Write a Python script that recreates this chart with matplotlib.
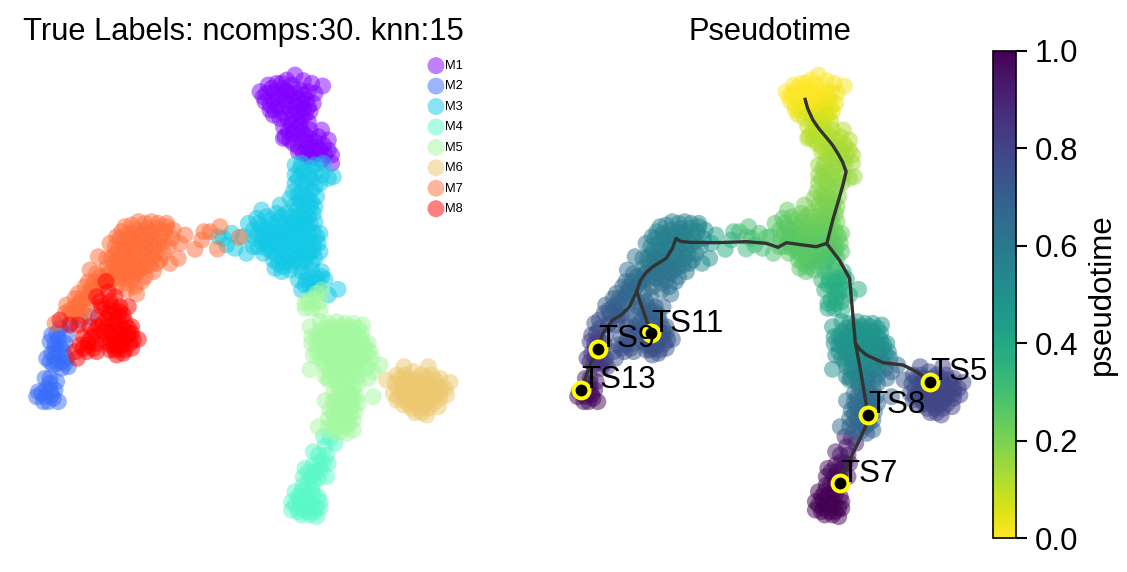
"""
Two embedding panels: true labels and pseudotime with the inferred paths.
"""

import numpy as np
import matplotlib.pyplot as plt

plt.rcParams["font.family"] = ["Liberation Sans", "DejaVu Sans"]

# (x, y, pseudotime) per cell. y grows downwards.
M1 = [(885,75,0),(860,90,0),(830,100,0),(805,105,0),(780,125,0),(968,108,.01),(910,92,0),(935,100,.01),
      (800,130,0),(825,125,0),(850,115,0),(875,105,0),(900,120,0),(925,125,.01),(945,130,.02),(795,155,0),
      (820,150,0),(845,140,0),(870,135,0),(895,145,.01),(920,150,.02),(940,160,.03),(810,180,.01),(835,170,.01),
      (860,165,.01),(885,170,.02),(910,175,.03),(930,185,.05),(820,195,.04),(850,190,.04),(880,195,.05),(905,200,.07),
      (925,215,.09),(850,230,.09),(875,225,.09),(900,225,.1),(855,260,.1),(880,250,.1),(905,245,.11),(930,240,.11),
      (965,240,.12),(985,270,.12),(850,265,.11),(880,280,.12),(905,270,.12),(930,265,.12),(955,260,.12),(895,305,.13),
      (920,295,.13),(945,290,.13),(970,285,.13),(995,315,.13),(920,320,.14),(950,310,.14),(975,315,.14),(995,340,.14)]
M1 += [(845,100,0),(815,115,0),(790,140,0),(835,140,0),(860,125,0),(885,130,0),(910,135,.01),(810,165,.01),
       (855,150,0),(880,155,.01),(905,160,.02),(925,170,.03),(825,180,.02),(870,180,.02),(895,185,.04),(840,205,.07),
       (865,210,.08),(890,215,.08),(915,195,.06),(865,245,.1),(890,240,.1),(915,255,.11),(870,270,.11),(895,290,.12),
       (920,280,.12),(945,275,.12),(910,310,.13),(935,305,.13),(960,300,.13),(985,300,.13),(935,325,.14),(965,330,.14)]
M2 = [(270,800,.72),(240,810,.74),(210,820,.76),(155,855,.8),(180,835,.78),(200,855,.78),(150,875,.82),(175,865,.8),
      (195,880,.8),(165,895,.82),(190,905,.82),(140,925,.85),(165,920,.84),(185,935,.84),(205,950,.82),(200,925,.82),
      (160,945,.86),(185,955,.86),(135,985,.92),(150,1000,.94),(170,995,.93),(140,1015,.96),(115,1025,.97),(165,1020,.96),
      (110,1040,.98),(135,1040,.98),(155,1035,.98),(175,1055,.98),(145,1055,.98)]
M2 += [(170,850,.8),(165,880,.82),(180,890,.82),(155,910,.84),(175,905,.83),(150,935,.86),(170,940,.85),(195,940,.84),
       (150,985,.92),(125,1030,.97),(150,1020,.96),(160,1045,.98),(130,1055,.98)]
M3 = [(885,345,.15),(905,340,.15),(945,345,.15),(970,340,.15),(1000,380,.15),(885,375,.16),(910,365,.16),(935,355,.16),
      (965,375,.16),(985,385,.16),(885,400,.17),(910,395,.17),(935,390,.17),(960,400,.17),(880,425,.18),(905,425,.18),
      (935,420,.18),(950,440,.19),(870,445,.19),(900,450,.19),(925,450,.19),(945,470,.2),(785,480,.24),(840,465,.21),
      (745,520,.26),(770,505,.25),(800,500,.24),(830,490,.22),(860,490,.21),(890,480,.2),(915,485,.2),(940,490,.2),
      (945,515,.21),(760,540,.26),(785,530,.25),(810,525,.24),(835,515,.23),(860,515,.22),(885,510,.22),(910,510,.21),
      (930,520,.22),(960,550,.23),(765,565,.26),(790,555,.25),(815,550,.24),(840,545,.24),(865,540,.23),(890,535,.23),
      (915,540,.23),(940,545,.23),(775,590,.26),(800,580,.25),(825,575,.25),(850,570,.25),(875,565,.25),(900,565,.25),
      (925,570,.25),(955,580,.25),(790,610,.26),(815,605,.26),(840,600,.26),(865,595,.26),(890,590,.26),(915,595,.26),
      (940,600,.26),(960,605,.27),(820,630,.26),(845,625,.26),(870,620,.27),(895,620,.27),(920,620,.28),(945,625,.28),
      (825,655,.26),(850,650,.26),(875,645,.27),(900,640,.28),(935,660,.33),(905,665,.32),(965,665,.34),(895,690,.35),
      (920,690,.35),(950,685,.36),(975,688,.37),(905,720,.37),(930,710,.37),(955,705,.38),(1014,718,.38),(985,735,.38),
      (695,550,.3),(670,565,.3),(655,560,.3),(680,585,.31),(705,595,.3),(740,610,.28),(730,560,.28),(760,590,.27)]
M3 += [(900,355,.16),(925,375,.16),(950,365,.16),(895,385,.17),(920,405,.17),(945,410,.18),(895,435,.18),(915,440,.19),
       (935,455,.19),(885,465,.2),(910,470,.2),(930,470,.2),(815,510,.24),(845,500,.22),(875,500,.21),(900,495,.21),
       (925,500,.21),(775,520,.25),(795,540,.25),(825,535,.24),(850,530,.23),(875,525,.22),(900,520,.22),(920,525,.22),
       (775,550,.26),(800,565,.25),(825,560,.25),(850,555,.24),(875,550,.24),(900,550,.24),(925,555,.24),(950,560,.24),
       (785,575,.26),(810,590,.26),(835,585,.25),(860,580,.25),(885,578,.25),(910,580,.25),(940,585,.25),(800,595,.26),
       (830,615,.26),(855,610,.26),(880,605,.26),(905,605,.26),(930,610,.27),(835,640,.26),(860,635,.26),(885,632,.27),
       (910,630,.28),(935,640,.3),(845,665,.27),(870,660,.28),(920,670,.33),(940,695,.36),(965,680,.36),(915,705,.37),
       (940,720,.38)]
M4 = [(970,1160,.9),(990,1165,.9),(1005,1180,.92),(940,1205,.93),(980,1215,.94),(960,1235,.96),(985,1240,.96),
      (940,1245,.97),(915,1255,.97),(960,1260,.98),(980,1280,.98),(910,1280,.98),(935,1280,.98),(955,1285,.99),
      (925,1300,.99),(885,1325,1.0),(905,1325,1.0),(935,1320,1.0),(955,1340,1.0),(875,1355,1.0),(900,1350,1.0),
      (925,1345,1.0),(960,1355,1.0),(875,1380,1.0),(900,1375,1.0),(925,1370,1.0),(950,1375,1.0),(905,1395,1.0),
      (930,1395,1.0),(950,1400,1.0)]
M4 += [(975,1190,.93),(955,1215,.94),(925,1265,.97),(945,1265,.98),(970,1240,.96),(910,1305,.99),(940,1300,.99),
       (895,1340,1.0),(915,1335,1.0),(940,1335,1.0),(885,1365,1.0),(910,1362,1.0),(935,1358,1.0),(895,1385,1.0),
       (920,1385,1.0),(940,1385,1.0),(960,1375,1.0)]
M5 = [(965,720,.38),(915,760,.39),(940,745,.39),(960,755,.39),(935,775,.4),(960,780,.4),(915,775,.4),(1010,815,.48),
      (1060,820,.48),(1088,825,.48),(930,830,.44),(960,815,.44),(985,820,.46),(1035,820,.48),(935,860,.47),(960,845,.47),
      (985,845,.48),(1010,840,.48),(1035,845,.48),(1060,845,.48),(1085,850,.48),(935,880,.48),(960,870,.48),(985,870,.48),
      (1010,865,.48),(1035,870,.48),(1060,870,.48),(1085,870,.49),(1105,880,.5),(940,915,.49),(965,895,.49),(990,895,.49),
      (1015,890,.49),(1040,895,.49),(1065,895,.49),(1090,895,.5),(1110,905,.52),(930,958,.5),(960,925,.5),(985,920,.5),
      (1010,920,.5),(1035,920,.5),(1060,920,.5),(1085,925,.52),(1115,925,.55),(1140,945,.65),(975,950,.52),(1000,945,.52),
      (1025,945,.52),(1050,945,.52),(1075,950,.55),(1100,955,.6),(975,980,.54),(1000,970,.54),(1025,970,.54),(1050,970,.55),
      (1075,975,.58),(1105,985,.65),(1120,965,.68),(1120,1040,.7),(985,990,.55),(1010,995,.56),(1040,995,.58),(1075,1000,.62),
      (1000,1030,.62),(1025,1020,.62),(1050,1030,.62),(1070,1040,.66),(975,1052,.62),(1000,1055,.64),(1025,1050,.64),
      (1050,1055,.65),(1075,1060,.66),(990,1080,.65),(1015,1080,.66),(1040,1080,.66),(1065,1085,.66),(985,1105,.66),
      (1010,1105,.66),(1035,1105,.66),(1060,1110,.66),(955,1130,.66),(985,1130,.66),(1010,1130,.66),(1035,1130,.68),
      (1060,1140,.68),(1020,1145,.7)]
M5 += [(975,835,.46),(1000,830,.47),(1025,830,.48),(1050,830,.48),(1075,835,.48),(950,860,.47),(975,858,.48),(1000,855,.48),
       (1025,858,.48),(1050,858,.48),(1075,858,.48),(950,885,.48),(975,883,.48),(1000,880,.48),(1025,880,.49),(1050,882,.49),
       (1075,882,.49),(1095,885,.5),(950,905,.49),(975,908,.49),(1000,905,.49),(1025,905,.49),(1050,908,.5),(1075,908,.5),
       (1100,912,.52),(970,935,.5),(995,932,.51),(1020,932,.51),(1045,932,.51),(1070,935,.53),(1095,940,.58),(990,958,.53),
       (1012,958,.53),(1037,958,.53),(1062,960,.55),(990,985,.55),(1015,982,.55),(1040,982,.56),(1065,988,.6),(1015,1010,.6),
       (1040,1012,.61),(1060,1015,.62),(1010,1040,.63),(1035,1040,.64),(1060,1042,.65),(1005,1068,.65),(1030,1065,.65),
       (1055,1070,.66),(1000,1092,.66),(1025,1092,.66),(1050,1095,.66),(1000,1118,.66),(1025,1118,.66),(1048,1120,.67),
       (1000,1145,.68),(1040,1150,.7),(940,760,.39),(950,730,.38),(925,750,.39)]
M6 = [(1212,950,.78),(1285,950,.8),(1160,990,.74),(1190,975,.76),(1215,975,.78),(1240,965,.78),(1265,975,.8),(1295,975,.8),
      (1320,985,.8),(1350,997,.8),(1185,1000,.76),(1210,1000,.78),(1235,995,.78),(1260,1000,.8),(1285,1000,.8),(1310,1005,.8),
      (1335,1015,.8),(1180,1030,.76),(1205,1025,.78),(1230,1020,.78),(1255,1025,.8),(1280,1025,.8),(1305,1030,.8),(1340,1035,.8),
      (1190,1050,.78),(1215,1050,.78),(1240,1050,.8),(1265,1050,.8),(1290,1050,.8),(1320,1045,.8),(1235,1075,.8),(1260,1075,.8),
      (1285,1075,.8),(1315,1070,.8),(1245,1088,.8),(1280,1095,.8)]
M6 += [(1200,985,.77),(1225,985,.78),(1250,985,.79),(1280,985,.8),(1305,990,.8),(1195,1015,.77),(1220,1010,.78),(1245,1010,.79),
       (1270,1012,.8),(1295,1015,.8),(1320,1015,.8),(1195,1040,.77),(1220,1037,.78),(1245,1037,.79),(1270,1037,.8),(1295,1040,.8),
       (1320,1030,.8),(1250,1062,.8),(1275,1062,.8),(1300,1060,.8),(1225,1062,.79),(1265,1088,.8),(1210,1065,.79)]
M7 = [(660,530,.3),(630,545,.3),(612,545,.33),(585,598,.38),(605,570,.36),(652,597,.33),(718,562,.28),(555,555,.42),
      (540,580,.45),(535,625,.5),(510,640,.52),(375,530,.56),(415,515,.56),(455,515,.55),(500,520,.54),(520,540,.52),
      (350,560,.56),(385,550,.56),(410,540,.56),(440,535,.56),(470,535,.55),(495,545,.54),(515,565,.52),(345,590,.57),
      (370,580,.56),(395,570,.56),(420,560,.56),(450,555,.56),(480,560,.55),(505,590,.54),(330,580,.57),(320,625,.6),
      (345,615,.58),(370,605,.57),(395,595,.57),(420,585,.57),(450,580,.56),(475,585,.56),(490,610,.56),(340,640,.6),
      (365,635,.59),(390,620,.58),(415,610,.58),(440,605,.58),(465,615,.58),(480,630,.58),(295,620,.62),(320,655,.6),
      (350,665,.6),(375,655,.6),(400,645,.6),(425,635,.6),(450,645,.6),(460,665,.6),(270,660,.64),(290,670,.64),
      (265,695,.65),(285,695,.65),(310,690,.63),(335,690,.62),(360,685,.62),(385,675,.62),(410,670,.62),(435,680,.62),
      (255,710,.66),(280,720,.66),(305,705,.65),(350,710,.64),(380,700,.64),(405,710,.63),(410,732,.63),(235,730,.67),
      (260,745,.67),(225,745,.68),(200,765,.7),(225,770,.7),(250,770,.68),(270,760,.68),(195,790,.72),(215,790,.72),
      (240,795,.72),(165,820,.75),(250,795,.72)]
M7 += [(395,525,.56),(435,520,.56),(475,520,.55),(365,545,.56),(400,555,.56),(430,548,.56),(455,545,.56),(500,530,.54),
       (360,565,.56),(385,565,.56),(435,570,.56),(465,570,.56),(490,575,.55),(355,600,.57),(380,595,.57),(405,580,.57),
       (435,595,.57),(460,595,.57),(335,625,.59),(355,625,.59),(380,620,.58),(405,625,.58),(430,620,.58),(455,625,.58),
       (470,640,.58),(330,670,.62),(360,650,.6),(385,640,.6),(410,655,.6),(435,650,.6),(300,680,.63),(320,675,.62),
       (345,680,.62),(370,670,.61),(395,665,.61),(420,660,.61),(275,710,.66),(295,715,.65),(270,725,.66),(245,745,.68),
       (240,760,.68),(210,780,.71),(230,785,.71),(380,720,.64),(395,690,.63),(425,695,.63)]
M8 = [(318,695,.64),(290,740,.66),(325,725,.65),(345,740,.66),(300,755,.67),(330,755,.67),(360,770,.67),(385,770,.68),
      (315,775,.68),(345,785,.68),(370,795,.68),(295,800,.7),(320,805,.7),(345,815,.7),(375,815,.7),(395,830,.72),
      (270,830,.72),(295,830,.72),(320,835,.72),(345,840,.72),(370,840,.72),(395,850,.73),(250,860,.74),(275,860,.74),
      (300,855,.73),(330,865,.73),(355,865,.73),(380,860,.73),(415,868,.74),(240,885,.75),(265,885,.75),(290,880,.74),
      (340,885,.74),(365,885,.74),(390,880,.74),(225,905,.76),(260,905,.75),(290,905,.75),(330,900,.74),(355,895,.74),
      (395,895,.74),(232,925,.76),(350,915,.75),(180,810,.76),(210,825,.76),(235,825,.75),(330,885,.74)]
M8 += [(305,770,.68),(335,770,.68),(360,785,.68),(330,790,.69),(355,800,.69),(310,820,.71),(335,820,.71),(360,825,.71),
       (385,835,.72),(285,845,.73),(310,845,.73),(335,850,.73),(360,850,.73),(385,850,.73),(265,875,.74),(320,875,.74),
       (345,875,.74),(370,870,.74),(400,870,.74),(250,895,.75),(280,895,.75),(345,900,.75),(375,900,.75),(370,910,.75)]

clusters = [M1, M2, M3, M4, M5, M6, M7, M8]
cluster_names = ["M1", "M2", "M3", "M4", "M5", "M6", "M7", "M8"]

# inferred trajectories, same coordinates as the cells
path_main_x = [842, 850, 867, 888, 910, 930, 947, 962, 974, 964, 953, 942, 931, 912]
path_main_y = [148, 175, 210, 238, 262, 285, 310, 335, 365, 403, 440, 475, 510, 580]
path_left_x = [912, 878, 835, 782, 755, 717, 653, 556, 470, 440, 427, 415, 395, 352, 330, 312, 300, 277, 250, 223, 191, 175, 148, 121]
path_left_y = [580, 590, 585, 578, 592, 580, 575, 578, 577, 574, 565, 595, 625, 650, 668, 692, 725, 770, 795, 810, 850, 897, 950, 1020]
path_ts11_x = [300, 346]
path_ts11_y = [725, 850]
path_down_x = [915, 952, 985, 996, 1004, 1022, 1044, 1036, 1022, 985, 955]
path_down_y = [585, 630, 685, 800, 880, 970, 1095, 1130, 1160, 1230, 1300]
path_ts5_x = [1004, 1018, 1039, 1093, 1157, 1200, 1244]
path_ts5_y = [880, 898, 915, 938, 945, 965, 995]

terminal_names = ["TS5", "TS7", "TS8", "TS9", "TS11", "TS13"]
terminal_x = [1244, 955, 1044, 175, 346, 121]
terminal_y = [995, 1300, 1095, 897, 850, 1020]

W, H = 1127, 572
fig = plt.figure(figsize=(W / 150, H / 150), dpi=150)
ax1 = fig.add_axes([21 / W, 22 / H, 444 / W, 500 / H])
ax2 = fig.add_axes([563 / W, 22 / H, 414 / W, 500 / H])
cax = fig.add_axes([993 / W, 34 / H, 23 / W, 487 / H])

colors = plt.cm.rainbow(np.linspace(0, 1, len(clusters)))
for pts, name, c in zip(clusters, cluster_names, colors):
    arr = np.array(pts)
    ax1.scatter(arr[:, 0], arr[:, 1], s=66, color=c, alpha=0.5, edgecolors="none", label=name)
ax1.set_title("True Labels: ncomps:30. knn:15", fontsize=14.85, pad=5)
ax1.legend(loc="upper left", bbox_to_anchor=(0.92, 0.98), frameon=False, fontsize=6.2,
           labelspacing=0.65, handlelength=1, handletextpad=0.18, borderpad=0, borderaxespad=0)

all_pts = np.vstack([np.array(p) for p in clusters])
sc = ax2.scatter(all_pts[:, 0], all_pts[:, 1], c=all_pts[:, 2], s=66, cmap="viridis_r",
                 vmin=0, vmax=1, alpha=0.5, edgecolors="none")
for px, py in [(path_main_x, path_main_y), (path_left_x, path_left_y), (path_ts11_x, path_ts11_y),
               (path_down_x, path_down_y), (path_ts5_x, path_ts5_y)]:
    ax2.plot(px, py, color="#333333", lw=1.6, solid_joinstyle="round")
ax2.scatter(terminal_x, terminal_y, s=58, c="black", edgecolors="yellow", linewidths=1.9, zorder=4)
for name, x, y in zip(terminal_names, terminal_x, terminal_y):
    ax2.text(x, y - 5, name, fontsize=15, color="black", zorder=5)
ax2.set_title("Pseudotime", fontsize=14.85, pad=5)

for ax in (ax1, ax2):
    ax.set_xlim(63, 1395)
    ax.set_ylim(1500, 0)
    ax.axis("off")

sm = plt.cm.ScalarMappable(cmap="viridis_r", norm=plt.Normalize(0, 1))
cb = fig.colorbar(sm, cax=cax)
cb.set_ticks([0.0, 0.2, 0.4, 0.6, 0.8, 1.0])
cb.ax.tick_params(labelsize=15, length=5.5, width=1)
cb.set_label("pseudotime", fontsize=15, labelpad=4)

fig.savefig("out.png", dpi=150)
